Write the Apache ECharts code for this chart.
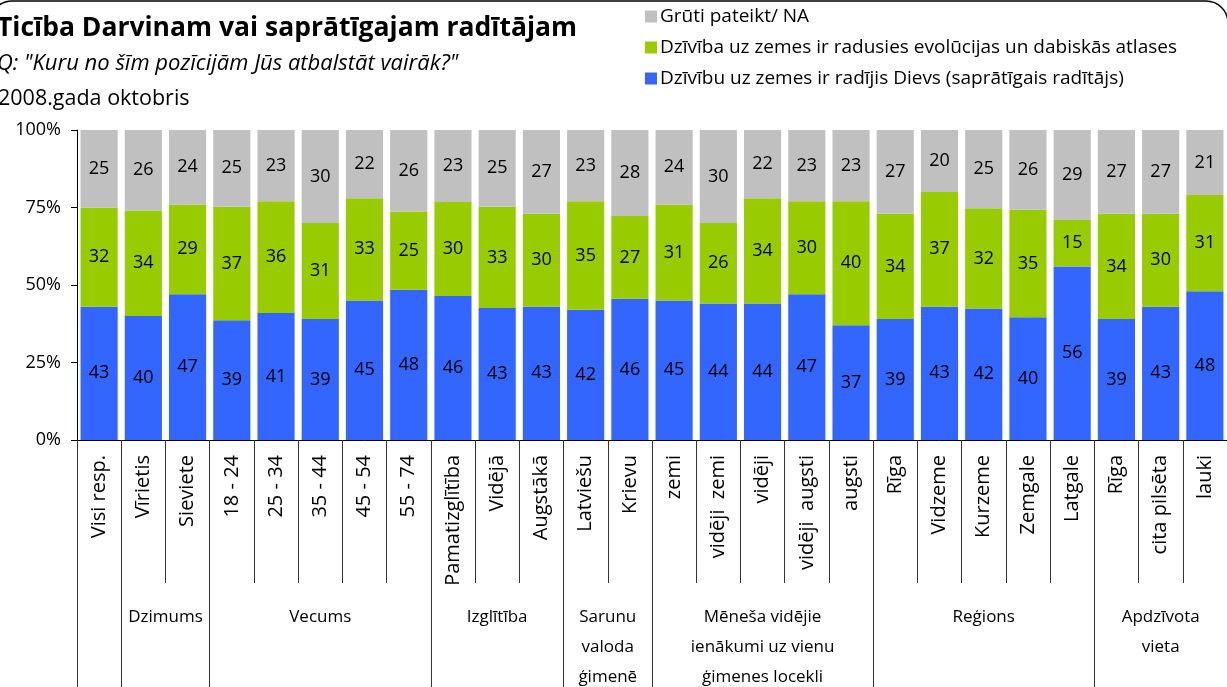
<!DOCTYPE html>
<html>
<head>
<meta charset="utf-8">
<script src="https://cdn.jsdelivr.net/npm/echarts@6/dist/echarts.min.js"></script>
<style>
  html, body { margin: 0; padding: 0; background: #fff; }
  #main { width: 1227px; height: 687px; }
</style>
</head>
<body>
<div id="main"></div>
<script>
// kategorijas (apakšējā ass)
var categories = ['Visi resp.', 'Vīrietis', 'Sieviete', '18 - 24', '25 - 34', '35 - 44', '45 - 54', '55 - 74',
  'Pamatizglītība', 'Vidējā', 'Augstākā', 'Latviešu', 'Krievu', 'zemi', 'vidēji  zemi', 'vidēji',
  'vidēji  augsti', 'augsti', 'Rīga', 'Vidzeme', 'Kurzeme', 'Zemgale', 'Latgale', 'Rīga', 'cita pilsēta', 'lauki'];

// grupas
var groupNames = ['', 'Dzimums', 'Vecums', 'Izglītība', 'Sarunu\nvaloda\nģimenē',
  'Mēneša vidējie\nienākumi uz vienu\nģimenes locekli', 'Reģions', 'Apdzīvota\nvieta'];
var groupSizes = [1, 2, 5, 3, 2, 5, 5, 3];

// vērtības
var dievs   = [43, 40, 47, 39, 41, 39, 45, 48, 46, 43, 43, 42, 46, 45, 44, 44, 47, 37, 39, 43, 42, 40, 56, 39, 43, 48];
var evol    = [32, 34, 29, 37, 36, 31, 33, 25, 30, 33, 30, 35, 27, 31, 26, 34, 30, 40, 34, 37, 32, 35, 15, 34, 30, 31];
var gruti   = [25, 26, 24, 25, 23, 30, 22, 26, 23, 25, 27, 23, 28, 24, 30, 22, 23, 23, 27, 20, 25, 26, 29, 27, 27, 21];

var yTicks = [0, 25, 50, 75, 100];

var seriesNames = [
  'Dzīvību uz zemes ir radījis Dievs (saprātīgais radītājs)',
  'Dzīvība uz zemes ir radusies evolūcijas un dabiskās atlases',
  'Grūti pateikt/ NA'
];
var colors = ['#3366FF', '#99CC00', '#C0C0C0'];
var FONT = 'Open Sans';

// 100% stabiņi, kā Excel
function share(arr) {
  return arr.map(function (v, i) {
    return v / (dievs[i] + evol[i] + gruti[i]) * 100;
  });
}

// grupu robežas (kategorijas indekss)
var bounds = [0];
groupSizes.forEach(function (s) { bounds.push(bounds[bounds.length - 1] + s); });

var chart = echarts.init(document.getElementById('main'));

function mkSeries(name, raw, color) {
  return {
    name: name,
    type: 'bar',
    stack: 'all',
    barCategoryGap: '16%',
    itemStyle: { color: color },
    label: {
      show: true,
      position: 'inside',
      color: '#000',
      fontFamily: FONT,
      fontSize: 18,
      formatter: function (p) { return raw[p.dataIndex]; }
    },
    data: share(raw)
  };
}

var option = {
  animation: false,
  textStyle: { fontFamily: FONT },
  title: [
    { text: 'Ticība Darvinam vai saprātīgajam radītājam', left: -3, top: 15, padding: 0,
      textStyle: { fontFamily: FONT, fontWeight: 'bold', fontSize: 26.5, color: '#000' } },
    { text: 'Q: "Kuru no šīm pozīcijām Jūs atbalstāt vairāk?"', left: -3, top: 53, padding: 0,
      textStyle: { fontFamily: FONT, fontStyle: 'italic', fontWeight: 'normal', fontSize: 22, color: '#000' } },
    { text: '2008.gada oktobris', left: -2, top: 88, padding: 0,
      textStyle: { fontFamily: FONT, fontWeight: 'normal', fontSize: 21.5, color: '#000' } }
  ],
  legend: {
    orient: 'vertical',
    left: 645,
    top: 7,
    padding: 0,
    itemWidth: 12,
    itemHeight: 12,
    itemGap: 12,
    icon: 'rect',
    data: [seriesNames[2], seriesNames[1], seriesNames[0]],
    textStyle: { fontFamily: FONT, fontSize: 19, color: '#000', padding: [0, 0, 0, -2] }
  },
  grid: { left: 77, right: -4, top: 130, bottom: 247, containLabel: false },
  xAxis: [{
    type: 'category',
    data: categories,
    axisLine: { lineStyle: { color: '#000', width: 1 } },
    axisTick: { show: true, length: 143, lineStyle: { color: '#333' } },
    axisLabel: {
      rotate: 90, interval: 0, margin: 15, color: '#000',
      fontFamily: FONT, fontSize: 20
    }
  }, {
    type: 'category',
    data: categories,
    position: 'bottom',
    offset: 143,
    axisLine: { show: false },
    axisTick: {
      show: true,
      length: 104,
      lineStyle: { color: '#333' },
      interval: function (idx) { return bounds.indexOf(idx) >= 0; }
    },
    axisLabel: { show: false }
  }],
  yAxis: {
    type: 'value',
    min: yTicks[0],
    max: yTicks[yTicks.length - 1],
    interval: 25,
    splitLine: { show: false },
    axisLine: { show: true, lineStyle: { color: '#000' } },
    axisTick: { show: true, length: 6, lineStyle: { color: '#000' } },
    axisLabel: {
      margin: 16, color: '#000', fontFamily: FONT, fontSize: 18,
      formatter: function (v) { return v + '%'; }
    }
  },
  series: [
    mkSeries(seriesNames[0], dievs, colors[0]),
    mkSeries(seriesNames[1], evol, colors[1]),
    mkSeries(seriesNames[2], gruti, colors[2])
  ]
};

chart.setOption(option);

// grupu nosaukumi zem ass, novietoti pēc ass skalas
var graphics = [{
  type: 'rect',
  silent: true,
  shape: { x: -10, y: 1, width: 1238, height: 800, r: 22 },
  style: { fill: 'none', stroke: '#000', lineWidth: 1.5 }
}];
groupNames.forEach(function (g, i) {
  if (!g) return;
  var a = chart.convertToPixel({ xAxisIndex: 0 }, bounds[i]);
  var b = chart.convertToPixel({ xAxisIndex: 0 }, bounds[i + 1] - 1);
  graphics.push({
    type: 'text',
    silent: true,
    x: (a + b) / 2,
    y: 602,
    style: {
      text: g,
      align: 'center',
      verticalAlign: 'top',
      lineHeight: 30,
      fill: '#000',
      font: '17px ' + FONT
    }
  });
});
chart.setOption({ graphic: graphics });
</script>
</body>
</html>
